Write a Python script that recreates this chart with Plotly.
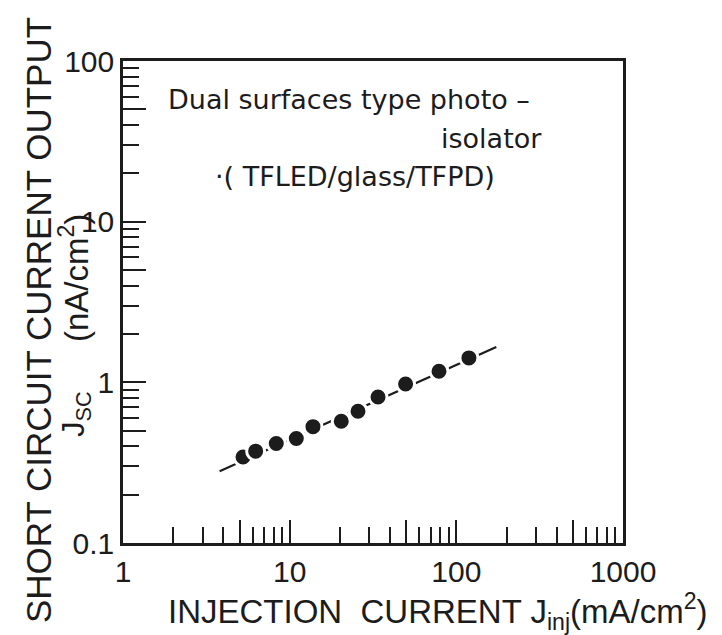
import plotly.graph_objects as go

# ---- data ----
j_inj = [5.25, 6.25, 8.31, 10.96, 13.8, 20.4, 25.7, 33.9, 49.6, 78.7, 119]
j_sc = [0.343, 0.373, 0.416, 0.447, 0.530, 0.573, 0.661, 0.811, 0.977, 1.172, 1.419]
fit_x = [3.80, 173.7]
fit_y = [0.280, 1.66]

x_major = [1, 5, 10, 50, 100, 500, 1000]
x_major_text = ["1", "", "10", "", "100", "", "1000"]
x_minor = [2, 3, 4, 6, 7, 8, 9, 20, 30, 40, 60, 70, 80, 90, 200, 300, 400, 600, 700, 800, 900]
y_major = [0.1, 0.5, 1, 5, 10, 50, 100]
y_major_text = ["0.1", "", "1", "", "10", "", "100"]
y_minor = [0.2, 0.3, 0.4, 0.6, 0.7, 0.8, 0.9, 2, 3, 4, 6, 7, 8, 9, 20, 30, 40, 60, 70, 80, 90]

ink = "#1c1c1c"
FONT = "Liberation Sans"
NOTE_FONT = "DejaVu Sans"

# plot box in pixels
L, R, T, B = 115, 615, 53, 535
W, H = 722, 635


def px(x):
    return (x - L) / (R - L)


def py(y):
    return (B - y) / (B - T)


fig = go.Figure()
fig.add_trace(go.Scatter(x=fit_x, y=fit_y, mode="lines",
                         line=dict(color=ink, width=2.2), hoverinfo="skip"))
fig.add_trace(go.Scatter(x=j_inj, y=j_sc, mode="markers",
                         marker=dict(size=18, color=ink, line=dict(color="white", width=3))))

axis_common = dict(
    type="log", showgrid=False, zeroline=False, showline=True, linecolor=ink,
    linewidth=2.5, mirror=True, ticks="inside", tickcolor=ink, tickwidth=2,
    ticklen=23, tickmode="array", tickfont=dict(family=FONT, size=30, color=ink),
)

fig.update_xaxes(**axis_common, range=[0, 3], tickvals=x_major, ticktext=x_major_text,
                 minor=dict(ticks="inside", tickmode="array", tickvals=x_minor,
                            ticklen=16, tickwidth=2, tickcolor=ink))
fig.update_yaxes(**axis_common, range=[-1, 2], tickvals=y_major, ticktext=y_major_text,
                 minor=dict(ticks="inside", tickmode="array", tickvals=y_minor,
                            ticklen=16, tickwidth=2, tickcolor=ink))

ann_font = dict(family=NOTE_FONT, size=27, color=ink)
annotations = [
    dict(x=px(158), y=py(91), text="Dual surfaces type photo –", xanchor="left", yanchor="middle",
         font=ann_font),
    dict(x=px(536), y=py(130), text="isolator", xanchor="right", yanchor="middle", font=ann_font),
    dict(x=px(205), y=py(168), text="·( TFLED/glass/TFPD)", xanchor="left", yanchor="middle",
         font=ann_font),
    dict(x=px(30), y=py(312), text="SHORT CIRCUIT CURRENT OUTPUT", textangle=-90,
         xanchor="center", yanchor="middle", font=dict(family=FONT, size=35, color=ink)),
    dict(x=px(66), y=py(270), text="(nA/cm<sup>2</sup>)", textangle=-90,
         xanchor="center", yanchor="middle", font=dict(family=FONT, size=33, color=ink)),
    dict(x=px(68), y=py(406), text="J<sub>SC</sub>", textangle=-90,
         xanchor="center", yanchor="middle", font=dict(family=FONT, size=31, color=ink)),
    dict(x=px(430), y=py(603), text="INJECTION  CURRENT J<sub>inj</sub>(mA/cm<sup>2</sup>)",
         xanchor="center", yanchor="middle", font=dict(family=FONT, size=33, color=ink)),
]
for a in annotations:
    a.update(xref="paper", yref="paper", showarrow=False)

fig.update_layout(
    width=W, height=H, showlegend=False,
    margin=dict(l=L, r=W - R, t=T, b=H - B, pad=0),
    paper_bgcolor="white", plot_bgcolor="white",
    annotations=annotations,
)

fig.write_html("out.html")
